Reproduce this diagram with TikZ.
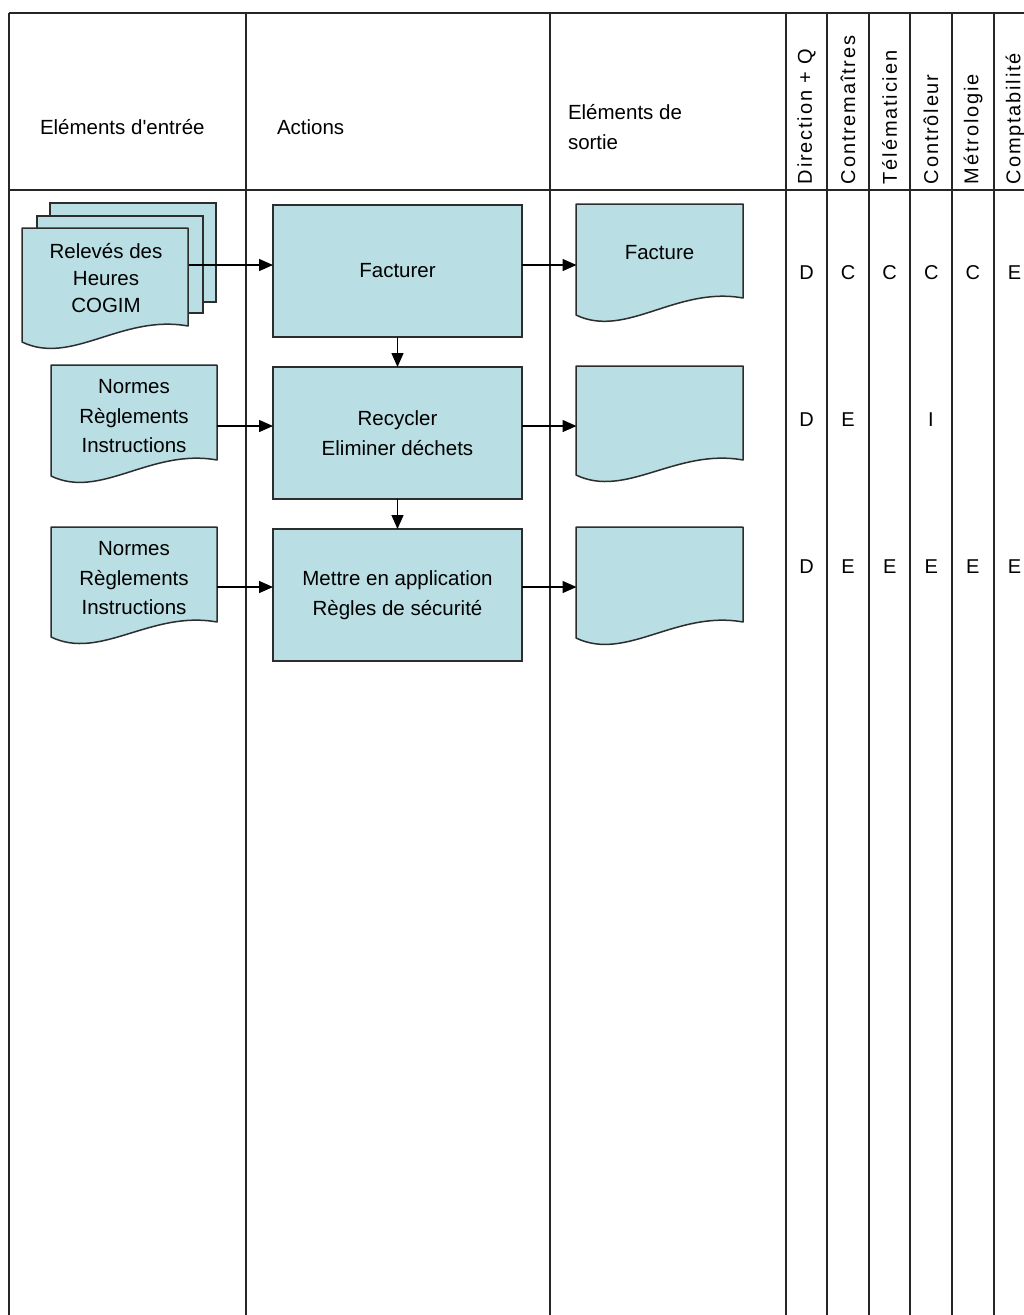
\documentclass[tikz,border=0pt]{standalone}
\usepackage{fontspec}
\setmainfont{Liberation Sans}
\newfontfamily\spacedfont[LetterSpace=9]{Liberation Sans}
\usetikzlibrary{arrows.meta,calc}
\definecolor{docfill}{RGB}{185,222,227}
\definecolor{edgec}{RGB}{45,45,45}
\newcommand{\docshape}[5]{% x1, top, x2, yRight, yLeft
  \filldraw[draw=edgec, fill=docfill, line width=1.5pt, line join=round]
    (#1,#2) -- (#3,#2) -- (#3,#4)
    .. controls ({#1+0.6*(#3-#1)},{#4-12}) and ({#1+0.3*(#3-#1)},{#5+24}) .. (#1,#5) -- cycle;}
\begin{document}
\begin{tikzpicture}[x=1pt,y=-1pt,
  every node/.style={font=\fontsize{20.5}{29.5}\selectfont, inner sep=0pt, outer sep=0pt},
  gridline/.style={line width=1.5pt, draw=black!85},
  actbox/.style={draw=edgec, fill=docfill, line width=1.5pt, minimum width=249pt, minimum height=132pt, align=center},
  doclabel/.style={align=center, minimum width=166pt},
  conn/.style={line width=1.4pt, draw=black, -{Triangle[length=14pt,width=12pt]}},
  rot/.style={rotate=90, anchor=west, font=\spacedfont\fontsize{20}{24}\selectfont},
  raci/.style={font=\fontsize{20}{24}\selectfont}
]
\useasboundingbox (0,0) rectangle (1024,1315);
\clip (0,0) rectangle (1024,1315);
\fill[white] (0,0) rectangle (1024,1315);

% grid
\draw[gridline] (9,13) -- (1040,13);
\draw[gridline] (9,190) -- (1040,190);
\foreach \x in {9,246,550,786,827,869,910,952,994,1036}
  \draw[gridline] (\x,13) -- (\x,1320);

% headers
\node[anchor=west] (hin) at (40,127) {Eléments d\textquotesingle entrée};
\node[anchor=west] (hact) at (277,127) {Actions};
\node[anchor=west, align=left] (hout) at (568,127) {Eléments de\\sortie};
\node[rot] (r1) at (806.5,184) {Direction + Q};
\node[rot] (r2) at (848,184) {Contremaîtres};
\node[rot] (r3) at (889.5,184) {Télématicien};
\node[rot] (r4) at (931,184) {Contrôleur};
\node[rot] (r5) at (973,184) {Métrologie};
\node[rot] (r6) at (1015,184) {Comptabilité};

% input documents
\filldraw[draw=edgec, fill=docfill, line width=1.5pt] (50,203) rectangle (216,302);
\filldraw[draw=edgec, fill=docfill, line width=1.5pt] (37,216) rectangle (203,313);
\docshape{22}{228}{188}{326}{342}
\node[doclabel, font=\fontsize{20.5}{27}\selectfont] (in1) at (106,278) {Relevés des\\Heures\\COGIM};

\docshape{51}{365}{217}{460}{476}
\node[doclabel] (in2) at (134,416.5) {Normes\\Règlements\\Instructions};

\docshape{51}{527}{217}{622}{637}
\node[doclabel] (in3) at (134,578.5) {Normes\\Règlements\\Instructions};

% actions
\node[actbox] (fact) at (397.5,271) {Facturer};
\node[actbox] (rec) at (397.5,433) {Recycler\\Eliminer déchets};
\node[actbox] (mett) at (397.5,595) {Mettre en application\\Règles de sécurité};

% output documents
\docshape{576}{204}{743}{298}{315}
\node[doclabel] (out1) at (659.5,253) {Facture};
\docshape{576}{366}{743}{460}{475}
\node[doclabel] (out2) at (659.5,413) {};
\docshape{576}{527}{743}{622}{638}
\node[doclabel] (out3) at (659.5,575) {};

% connectors
\coordinate (a1) at ([yshift=6pt]fact.west);
\coordinate (a2) at ([yshift=7pt]rec.west);
\coordinate (a3) at ([yshift=8pt]mett.west);
\draw[conn] (a1 -| in1.east) -- (a1);
\draw[conn] (a2 -| in2.east) -- (a2);
\draw[conn] (a3 -| in3.east) -- (a3);
\draw[conn] (a1 -| fact.east) -- (a1 -| out1.west);
\draw[conn] (a2 -| rec.east) -- (a2 -| out2.west);
\draw[conn] (a3 -| mett.east) -- (a3 -| out3.west);
\draw[conn] (fact.south) -- (rec.north);
\draw[conn] (rec.south) -- (mett.north);

% RACI letters
\foreach \l [count=\i] in {D,C,C,C,C,E}
  \node[raci] (ka\i) at ({806.5+41.6*(\i-1)},273) {\l};
\node[raci] (kb1) at (806.5,420) {D};
\node[raci] (kb2) at (848,420) {E};
\node[raci] (kb4) at (931,420) {I};
\foreach \l [count=\i] in {D,E,E,E,E,E}
  \node[raci] (kc\i) at ({806.5+41.6*(\i-1)},567) {\l};
\end{tikzpicture}
\end{document}
